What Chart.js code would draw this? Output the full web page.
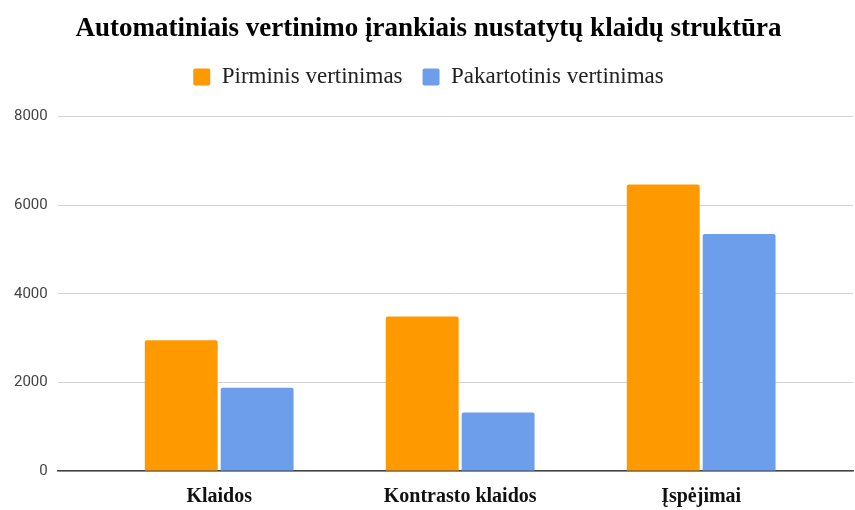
<!DOCTYPE html>
<html>
<head>
<meta charset="utf-8">
<script src="https://cdn.jsdelivr.net/npm/chart.js@4"></script>
<style>
html,body{margin:0;padding:0;background:#fff;}
#wrap{width:855px;height:510px;}
</style>
</head>
<body>
<div id="wrap"><canvas id="c" width="855" height="510"></canvas></div>
<script>
const titleText = "Automatiniais vertinimo įrankiais nustatytų klaidų struktūra";
const categories = ["Klaidos", "Kontrasto klaidos", "Įspėjimai"];
const seriesNames = ["Pirminis vertinimas", "Pakartotinis vertinimas"];
const pirminis = [2950, 3490, 6470];
const pakartotinis = [1880, 1320, 5350];
const yTicks = [0, 2000, 4000, 6000, 8000];

const toPoints = arr => arr.map((v, i) => ({x: i, y: v}));

new Chart(document.getElementById('c'), {
  type: 'bar',
  data: {
    datasets: [
      {label: seriesNames[0], data: toPoints(pirminis), backgroundColor: '#FF9900', borderRadius: 2, borderSkipped: 'bottom'},
      {label: seriesNames[1], data: toPoints(pakartotinis), backgroundColor: '#6D9EEB', borderRadius: 2, borderSkipped: 'bottom'}
    ]
  },
  options: {
    responsive: false,
    animation: false,
    layout: {padding: {left: 4, right: 2, top: 7, bottom: 1}},
    datasets: {bar: {categoryPercentage: 0.63, barPercentage: 0.96}},
    plugins: {
      title: {display: true, text: titleText, color: '#000',
        font: {family: 'Liberation Serif', size: 27, weight: 'bold'}, padding: {top: 6, bottom: 0}},
      subtitle: {display: true, text: '', weight: 500, font: {size: 1}, padding: {top: 0, bottom: 17}},
      legend: {display: true, position: 'top',
        labels: {color: '#222', font: {family: 'Liberation Serif', size: 23}, boxWidth: 17, boxHeight: 17, padding: 20,
          useBorderRadius: true, borderRadius: 2}},
      tooltip: {enabled: false}
    },
    scales: {
      x: {
        type: 'linear', min: -0.67, max: 2.63, offset: false,
        afterBuildTicks: s => { s.ticks = categories.map((c, i) => ({value: i})); },
        afterFit: s => { s.height = 38; },
        ticks: {callback: v => categories[v], color: '#111', padding: 14,
          font: {family: 'Liberation Serif', size: 20, weight: 'bold'}, autoSkip: false, maxRotation: 0},
        grid: {display: false, drawTicks: false, offset: false},
        border: {display: true, color: '#444', width: 1.5}
      },
      y: {
        min: 0, max: 8000,
        afterBuildTicks: s => { s.ticks = yTicks.map(v => ({value: v})); },
        ticks: {color: '#444', padding: 10, font: {family: 'Roboto', size: 15}, callback: v => String(v)},
        grid: {color: '#d3d3d3', drawTicks: false},
        border: {display: false}
      }
    }
  }
});
</script>
</body>
</html>
